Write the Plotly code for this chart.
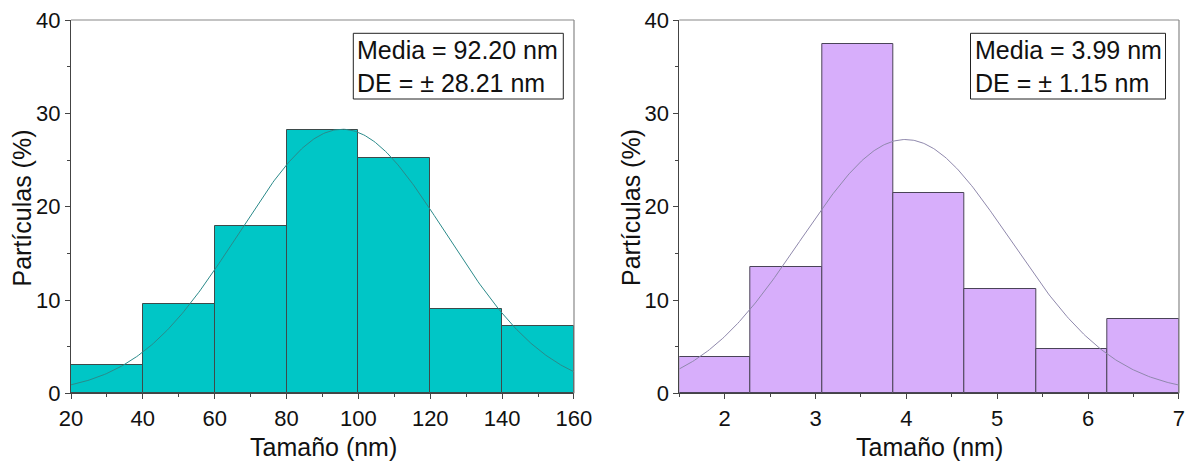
import numpy as np
import plotly.graph_objects as go

# ---- data ----
left_edges = [20, 40, 60, 80, 100, 120, 140, 160]
left_pct = [3.03, 9.57, 17.96, 28.18, 25.18, 9.0, 7.21]
left_fit_center = 95.5
left_fit_sd = 28.8
left_fit_peak = 28.3

right_edges = [1.5, 2.286, 3.071, 3.857, 4.643, 5.429, 6.214, 7.0]
right_pct = [3.92, 13.5, 37.4, 21.43, 11.14, 4.75, 7.93]
right_fit_center = 3.99
right_fit_sd = 1.15
right_fit_peak = 27.2

y_ticks = [0, 10, 20, 30, 40]
left_xticks = [20, 40, 60, 80, 100, 120, 140, 160]
right_xticks = [2, 3, 4, 5, 6, 7]

left_label = "Media = 92.20 nm<br>DE = ± 28.21 nm"
right_label = "Media = 3.99 nm<br>DE = ± 1.15 nm"

W, H = 1186, 464
FONT = "Liberation Sans, Arial, sans-serif"

def centers(edges):
    return [(edges[i] + edges[i + 1]) / 2 for i in range(len(edges) - 1)]

def widths(edges):
    return [edges[i + 1] - edges[i] for i in range(len(edges) - 1)]

def gauss(edges, c, sd, peak, n=300):
    x = np.linspace(edges[0], edges[-1], n)
    return x, peak * np.exp(-((x - c) ** 2) / (2 * sd ** 2))

fig = go.Figure()

fig.add_trace(go.Bar(x=centers(left_edges), y=left_pct, width=widths(left_edges),
                     marker=dict(color="#00C6C6", line=dict(color="#3d4a4a", width=1)),
                     xaxis="x", yaxis="y", showlegend=False))
gx, gy = gauss(left_edges, left_fit_center, left_fit_sd, left_fit_peak)
fig.add_trace(go.Scatter(x=gx, y=gy, mode="lines", line=dict(color="#2b8a8a", width=1),
                         xaxis="x", yaxis="y", showlegend=False))

fig.add_trace(go.Bar(x=centers(right_edges), y=right_pct, width=widths(right_edges),
                     marker=dict(color="#D7AEFB", line=dict(color="#4a4458", width=1)),
                     xaxis="x2", yaxis="y2", showlegend=False))
gx2, gy2 = gauss(right_edges, right_fit_center, right_fit_sd, right_fit_peak)
fig.add_trace(go.Scatter(x=gx2, y=gy2, mode="lines", line=dict(color="#8f88ac", width=1),
                         xaxis="x2", yaxis="y2", showlegend=False))

def px_x(p):
    return p / W

def px_y(p):
    return 1 - p / H

ydom = [px_y(393.3), px_y(20)]
xdom1 = [px_x(71), px_x(574)]
xdom2 = [px_x(679.3), px_x(1179)]

axis_common = dict(showline=True, linecolor="#444", linewidth=1, ticks="outside",
                   ticklen=5, tickwidth=1, tickcolor="#444", showgrid=False, zeroline=False,
                   tickfont=dict(family=FONT, size=22, color="#111"), automargin=False,
                   mirror=False, ticklabeloverflow="allow")

fig.update_layout(
    width=W, height=H, margin=dict(l=0, r=0, t=0, b=0),
    paper_bgcolor="white", plot_bgcolor="white", bargap=0,
    font=dict(family=FONT, color="#111"),
    xaxis=dict(domain=xdom1, range=[20, 160.01], tickvals=left_xticks, anchor="y",
               minor=dict(dtick=10, tick0=0, ticks="outside", ticklen=3, tickcolor="#444"),
               **axis_common),
    yaxis=dict(domain=ydom, range=[0, 40.01], tickvals=y_ticks, anchor="x",
               minor=dict(dtick=5, tick0=0, ticks="outside", ticklen=3, tickcolor="#444"),
               **axis_common),
    xaxis2=dict(domain=xdom2, range=[1.5, 7.002], tickvals=right_xticks, anchor="y2",
                minor=dict(dtick=0.5, tick0=0, ticks="outside", ticklen=3, tickcolor="#444"),
                **axis_common),
    yaxis2=dict(domain=ydom, range=[0, 40.01], tickvals=y_ticks, anchor="x2",
                minor=dict(dtick=5, tick0=0, ticks="outside", ticklen=3, tickcolor="#444"),
                **axis_common),
)

# top/right frame lines in gray
for xr, yr in (("x domain", "y domain"), ("x2 domain", "y2 domain")):
    fig.add_shape(type="line", xref=xr, yref=yr, x0=0, x1=1, y0=1, y1=1,
                  line=dict(color="#888", width=1.2))
    fig.add_shape(type="line", xref=xr, yref=yr, x0=1, x1=1, y0=0, y1=1,
                  line=dict(color="#888", width=1.2))

title_font = dict(family=FONT, size=25, color="#111")
for cx in (323, 929):
    fig.add_annotation(text="Tamaño (nm)", x=px_x(cx), y=px_y(447), xref="paper", yref="paper",
                       showarrow=False, font=title_font, xanchor="center", yanchor="middle")
for cx in (21.5, 631):
    fig.add_annotation(text="Partículas (%)", x=px_x(cx), y=px_y(208), xref="paper",
                       yref="paper", showarrow=False, font=title_font, textangle=-90,
                       xanchor="center", yanchor="middle")

# stats boxes
for (bx0, bx1, tx), txt in (((353.3, 563.3, 356), left_label), ((970.5, 1165.5, 973.7), right_label)):
    fig.add_shape(type="rect", xref="paper", yref="paper", x0=px_x(bx0), x1=px_x(bx1),
                  y0=px_y(99), y1=px_y(33.3), line=dict(color="#222", width=1),
                  fillcolor="rgba(0,0,0,0)")
    fig.add_annotation(text=txt, x=px_x(tx), y=px_y(66.5), xref="paper", yref="paper",
                       showarrow=False, align="left", xanchor="left", yanchor="middle",
                       font=dict(family=FONT, size=25, color="#111"), borderpad=0)

fig.write_html("out.html")
